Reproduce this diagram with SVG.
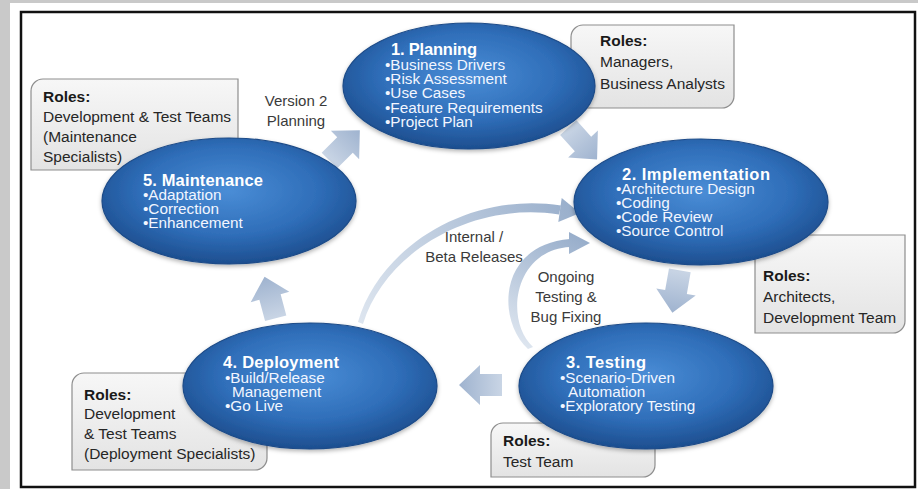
<svg xmlns="http://www.w3.org/2000/svg" width="918" height="489" viewBox="0 0 918 489">
<style>
.role-box{fill:url(#boxGrad);stroke:#8e8e8e;stroke-width:1.2}
.role-t{font-family:"Liberation Sans",Arial,sans-serif;font-size:15.5px;fill:#262626}
.role-b{font-weight:bold;fill:#1a1a1a}
.ell{fill:url(#ellGrad);stroke:#1c4b88;stroke-width:1.2;filter:url(#shadow)}
.title{font-family:"Liberation Sans",Arial,sans-serif;font-size:16.5px;font-weight:bold;fill:#ffffff}
.bul{font-family:"Liberation Sans",Arial,sans-serif;font-size:15.3px;fill:#f2f6ff}
.blk{fill:url(#arrGrad)}
.lbl{font-family:"Liberation Sans",Arial,sans-serif;font-size:15px;fill:#3a3a3a;text-anchor:middle}
</style>
<defs>
<linearGradient id="boxGrad" x1="0" y1="0" x2="0" y2="1">
<stop offset="0" stop-color="#f7f7f7"/>
<stop offset="1" stop-color="#e3e3e3"/>
</linearGradient>
<radialGradient id="ellGrad" cx="50%" cy="42%" r="58%">
<stop offset="0" stop-color="#4a8dd6"/>
<stop offset="0.6" stop-color="#2f6eb9"/>
<stop offset="1" stop-color="#1d4e8f"/>
</radialGradient>
<linearGradient id="arrGrad" x1="0" y1="0" x2="1" y2="0">
<stop offset="0" stop-color="#c9d5e5"/>
<stop offset="1" stop-color="#9fb3cf"/>
</linearGradient>
<linearGradient id="arcGrad1" gradientUnits="userSpaceOnUse" x1="360" y1="323" x2="580" y2="213">
<stop offset="0" stop-color="#dde5ef"/>
<stop offset="1" stop-color="#98aecb"/>
</linearGradient>
<linearGradient id="arcGrad2" gradientUnits="userSpaceOnUse" x1="530" y1="348" x2="590" y2="243">
<stop offset="0" stop-color="#dde5ef"/>
<stop offset="1" stop-color="#98aecb"/>
</linearGradient>
<filter id="shadow" x="-10%" y="-10%" width="120%" height="130%">
<feDropShadow dx="0" dy="2" stdDeviation="2" flood-color="#000" flood-opacity="0.3"/>
</filter>
<polygon id="blockArrow" points="-22,-11 0,-11 0,-20 21,0 0,20 0,11 -22,11"/>
</defs>

<rect x="0" y="0" width="918" height="489" fill="#c9c9c9"/>
<rect x="10" y="3" width="908" height="486" fill="#ffffff"/>
<rect x="21" y="12" width="894" height="475" fill="#ffffff" stroke="#111" stroke-width="2.5"/>

<g id="roles-planning">
<path class="role-box" d="M571 37 A12 12 0 0 1 583 25 H734 V96 A12 12 0 0 1 722 108 H571 Z"/>
<text class="role-t role-b" x="600" y="46">Roles:</text>
<text class="role-t" x="600" y="67">Managers,</text>
<text class="role-t" x="600" y="89">Business Analysts</text>
</g>
<g id="roles-maintenance">
<path class="role-box" d="M31 91 A12 12 0 0 1 43 79 H238 V158 A12 12 0 0 1 226 170 H31 Z"/>
<text class="role-t role-b" x="43" y="102">Roles:</text>
<text class="role-t" x="43" y="122">Development &amp; Test Teams</text>
<text class="role-t" x="43" y="142">(Maintenance</text>
<text class="role-t" x="43" y="162">Specialists)</text>
</g>
<g id="roles-implementation">
<path class="role-box" d="M755 247 A12 12 0 0 1 767 235 H905 V321 A12 12 0 0 1 893 333 H755 Z"/>
<text class="role-t role-b" x="763" y="281">Roles:</text>
<text class="role-t" x="763" y="302">Architects,</text>
<text class="role-t" x="763" y="323">Development Team</text>
</g>
<g id="roles-testing">
<path class="role-box" d="M491 435 A12 12 0 0 1 503 423 H655 V465 A12 12 0 0 1 643 477 H491 Z"/>
<text class="role-t role-b" x="503" y="446">Roles:</text>
<text class="role-t" x="503" y="467">Test Team</text>
</g>
<g id="roles-deployment">
<path class="role-box" d="M72 385 A12 12 0 0 1 84 373 H267 V458 A12 12 0 0 1 255 470 H72 Z"/>
<text class="role-t role-b" x="84" y="400">Roles:</text>
<text class="role-t" x="84" y="419">Development</text>
<text class="role-t" x="84" y="439">&amp; Test Teams</text>
<text class="role-t" x="84" y="459">(Deployment Specialists)</text>
</g>

<g id="connectors">
<use href="#blockArrow" class="blk" transform="translate(345 145) rotate(-45)"/>
<use href="#blockArrow" class="blk" transform="translate(583 144) rotate(48)"/>
<use href="#blockArrow" class="blk" transform="translate(676 292) rotate(100)"/>
<use href="#blockArrow" class="blk" transform="translate(480 385) rotate(180)"/>
<use href="#blockArrow" class="blk" transform="translate(270 297) rotate(-105)"/>
<path fill="url(#arcGrad1)" d="M358 322 C379 248 468 191 561 205.5 L559 214.5 C472 201 385 252 363 324 Z"/>
<polygon fill="url(#arcGrad1)" points="561.7,198 580,213 558.3,222"/>
<path fill="url(#arcGrad2)" d="M528 349 C497 321 497 245 570 239 L570 247 C514 250 504 320 533 347 Z"/>
<polygon fill="url(#arcGrad2)" points="569,232 590,243 569,254"/>
<text class="lbl" x="296" y="106">Version 2</text>
<text class="lbl" x="296" y="126">Planning</text>
<text class="lbl" x="474" y="242">Internal /</text>
<text class="lbl" x="474" y="262">Beta Releases</text>
<text class="lbl" x="566" y="282">Ongoing</text>
<text class="lbl" x="566" y="302">Testing &amp;</text>
<text class="lbl" x="566" y="322">Bug Fixing</text>
</g>

<g id="node-planning">
<ellipse class="ell" cx="469" cy="86" rx="126" ry="63"/>
<text class="title" x="391" y="55" textLength="86" lengthAdjust="spacing">1. Planning</text>
<text class="bul" x="385" y="70">•Business Drivers</text>
<text class="bul" x="385" y="84">•Risk Assessment</text>
<text class="bul" x="385" y="98">•Use Cases</text>
<text class="bul" x="385" y="113">•Feature Requirements</text>
<text class="bul" x="385" y="127">•Project Plan</text>
</g>
<g id="node-implementation">
<ellipse class="ell" cx="701" cy="202" rx="127" ry="63"/>
<text class="title" x="622" y="180" textLength="148" lengthAdjust="spacing">2. Implementation</text>
<text class="bul" x="616" y="194">•Architecture Design</text>
<text class="bul" x="616" y="208">•Coding</text>
<text class="bul" x="616" y="222">•Code Review</text>
<text class="bul" x="616" y="236">•Source Control</text>
</g>
<g id="node-testing">
<ellipse class="ell" cx="646" cy="386" rx="127" ry="63"/>
<text class="title" x="566" y="368" textLength="80" lengthAdjust="spacing">3. Testing</text>
<text class="bul" x="560" y="383">•Scenario-Driven</text>
<text class="bul" x="568" y="397">Automation</text>
<text class="bul" x="560" y="411">•Exploratory Testing</text>
</g>
<g id="node-deployment">
<ellipse class="ell" cx="310" cy="386" rx="127" ry="63"/>
<text class="title" x="223" y="368" textLength="116" lengthAdjust="spacing">4. Deployment</text>
<text class="bul" x="225" y="383">•Build/Release</text>
<text class="bul" x="232" y="397">Management</text>
<text class="bul" x="225" y="411">•Go Live</text>
</g>
<g id="node-maintenance">
<ellipse class="ell" cx="229" cy="201" rx="127" ry="63"/>
<text class="title" x="143" y="186" textLength="120" lengthAdjust="spacing">5. Maintenance</text>
<text class="bul" x="143" y="200">•Adaptation</text>
<text class="bul" x="143" y="214">•Correction</text>
<text class="bul" x="143" y="228">•Enhancement</text>
</g>
</svg>
